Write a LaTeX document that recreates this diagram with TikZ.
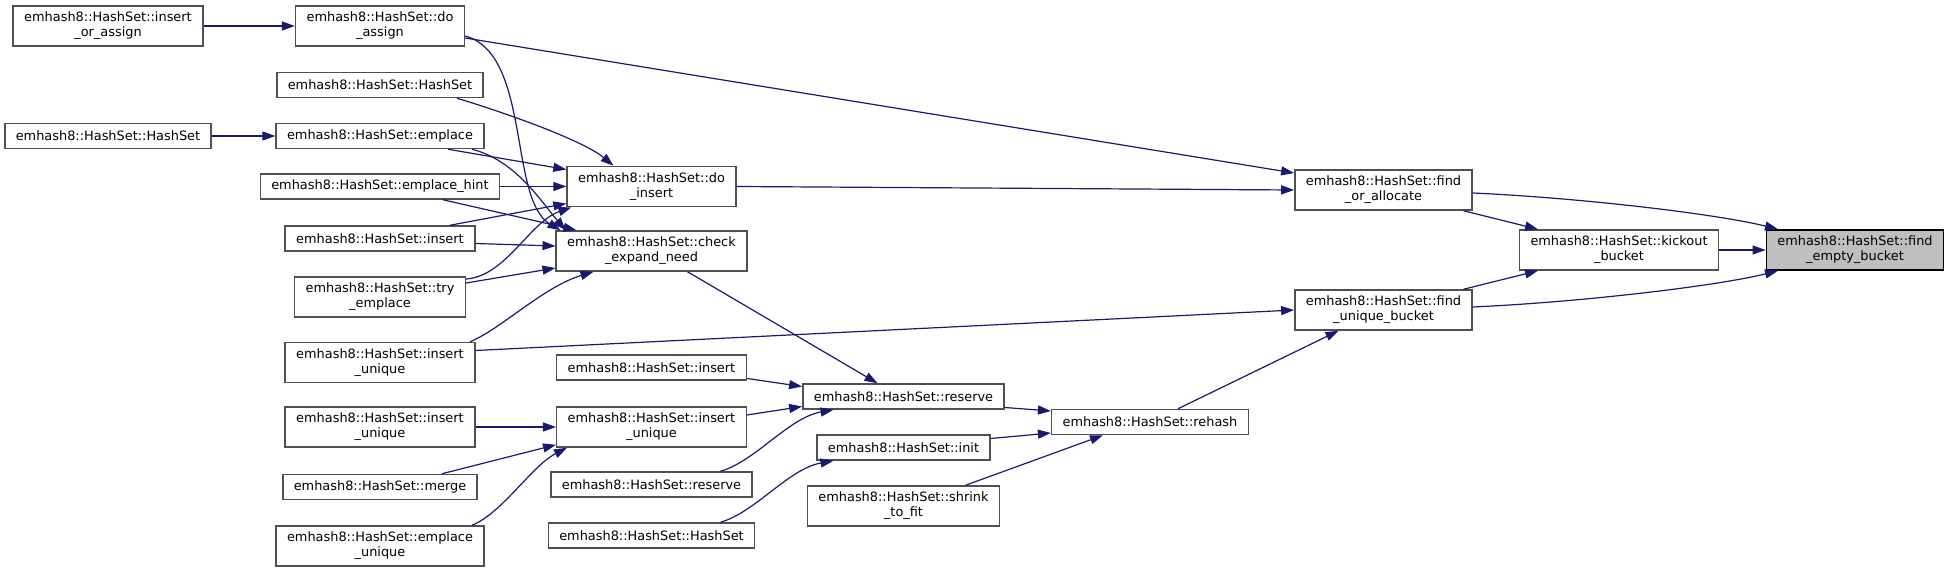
\documentclass[tikz,border=0pt]{standalone}
\usepackage{fontspec}
\setmainfont{DejaVu Sans}
\usepackage{xcolor}
\usepackage{tikz}
\usetikzlibrary{arrows.meta}

\definecolor{edgeblue}{HTML}{191970}
\definecolor{boxgray}{HTML}{505050}
\definecolor{focusgray}{HTML}{BFBFBF}

\begin{document}
\begin{tikzpicture}[font=\fontsize{12.9}{15}\selectfont, x=1pt, y=-1pt, >={Triangle[length=13pt,width=9pt]}]
\tikzstyle{fbox}=[draw=boxgray, line width=1.5pt, fill=white, align=center, minimum height=25pt, inner xsep=11pt, inner ysep=2pt]
\tikzstyle{tall}=[minimum height=40pt]
\tikzstyle{call}=[->, edgeblue, line width=1.2pt]
\useasboundingbox (0,0) rectangle (1948,569);

\node[fbox, tall] (insOrAssign) at (108,26) {emhash8::HashSet::insert\\\_or\_assign};
\node[fbox] (hsLeft) at (108,136) {emhash8::HashSet::HashSet};

\node[fbox, tall] (doAssign) at (380,26) {emhash8::HashSet::do\\\_assign};
\node[fbox] (hsTop) at (380,85) {emhash8::HashSet::HashSet};
\node[fbox] (emplace) at (380,136) {emhash8::HashSet::emplace};
\node[fbox] (emplaceHint) at (380,186.5) {emhash8::HashSet::emplace\_hint};
\node[fbox] (insertL) at (380,238.5) {emhash8::HashSet::insert};
\node[fbox, tall] (tryEmplace) at (380,297) {emhash8::HashSet::try\\\_emplace};
\node[fbox, tall] (insUniqA) at (380,362.5) {emhash8::HashSet::insert\\\_unique};
\node[fbox, tall] (insUniqB) at (380,427) {emhash8::HashSet::insert\\\_unique};
\node[fbox] (merge) at (380,487) {emhash8::HashSet::merge};
\node[fbox, tall] (emplaceUniq) at (380,546) {emhash8::HashSet::emplace\\\_unique};

\node[fbox, tall] (doInsert) at (651.5,186.5) {emhash8::HashSet::do\\\_insert};
\node[fbox, tall] (checkExpand) at (651.5,251) {emhash8::HashSet::check\\\_expand\_need};
\node[fbox] (insertM) at (651.5,367.5) {emhash8::HashSet::insert};
\node[fbox, tall] (insUniqM) at (651.5,427) {emhash8::HashSet::insert\\\_unique};
\node[fbox] (reserveM) at (651.5,484.5) {emhash8::HashSet::reserve};
\node[fbox] (hsMid) at (651.5,535.5) {emhash8::HashSet::HashSet};

\node[fbox] (reserve) at (903.5,396.5) {emhash8::HashSet::reserve};
\node[fbox] (init) at (903.5,447.5) {emhash8::HashSet::init};
\node[fbox, tall] (shrink) at (903.5,506) {emhash8::HashSet::shrink\\\_to\_fit};

\node[fbox] (rehash) at (1150,422) {emhash8::HashSet::rehash};
\node[fbox, tall] (findOrAlloc) at (1383.5,190) {emhash8::HashSet::find\\\_or\_allocate};
\node[fbox, tall] (findUniq) at (1383.5,310) {emhash8::HashSet::find\\\_unique\_bucket};
\node[fbox, tall] (kickout) at (1619,250) {emhash8::HashSet::kickout\\\_bucket};
\node[fbox, tall, draw=black, fill=focusgray] (findEmpty) at (1855,250) {emhash8::HashSet::find\\\_empty\_bucket};

\draw[call] (insOrAssign.east) -- (doAssign.west);
\draw[call] (hsLeft.east) -- (emplace.west);
\draw[call] ([yshift=-12pt]doAssign.east) -- ([yshift=17pt]findOrAlloc.west);
\draw[call] ([yshift=-10pt]doAssign.east) .. controls +(66,18) and +(-52,-31) .. ([xshift=5pt]checkExpand.north west);
\draw[call] ([xshift=77pt]hsTop.south) .. controls +(50,15) and +(-30,-25) .. ([xshift=-38pt]doInsert.north);
\draw[call] ([xshift=68pt]emplace.south) -- ([yshift=17pt]doInsert.west);
\draw[call] ([xshift=92pt]emplace.south) .. controls +(43,11) and +(-26,-31) .. ([xshift=10pt]checkExpand.north west);
\draw[call] (emplaceHint.east) -- (doInsert.west);
\draw[call] ([xshift=63pt]emplaceHint.south) -- ([xshift=21pt]checkExpand.north west);
\draw[call] ([xshift=70pt]insertL.north) -- ([yshift=-17pt]doInsert.west);
\draw[call] ([yshift=-5pt]insertL.east) -- ([yshift=5pt]checkExpand.west);
\draw[call] ([yshift=18pt]tryEmplace.east) .. controls +(40,-3) and +(-42,15) .. ([xshift=5pt]doInsert.south west);
\draw[call] ([yshift=14pt]tryEmplace.east) -- ([yshift=-17pt]checkExpand.west);
\draw[call] ([xshift=90pt]insUniqA.north) .. controls +(30,-12) and +(-50,15) .. ([xshift=-58pt]checkExpand.south);
\draw[call] ([yshift=12pt]insUniqA.east) -- (findUniq.west);
\draw[call] ([xshift=36pt]checkExpand.south) -- ([xshift=-26pt]reserve.north);
\draw[call] ([yshift=-11pt]insertM.east) -- ([yshift=10pt]reserve.west);
\draw[call] ([yshift=12pt]insUniqM.east) -- ([yshift=-10pt]reserve.west);
\draw[call] ([xshift=69pt]reserveM.north) .. controls +(35,-10) and +(-45,8) .. ([xshift=-70pt]reserve.south);
\draw[call] (insUniqB.east) -- (insUniqM.west);
\draw[call] ([xshift=62pt]merge.north) -- ([yshift=3pt]insUniqM.south west);
\draw[call] ([xshift=92pt]emplaceUniq.north) .. controls +(30,-12) and +(-35,18) .. ([xshift=11pt]insUniqM.south west);
\draw[call] ([xshift=69pt]hsMid.north) .. controls +(35,-10) and +(-45,8) .. ([xshift=-70pt]init.south);
\draw[call] ([yshift=-11pt]reserve.east) -- ([yshift=11pt]rehash.west);
\draw[call] ([yshift=9pt]init.east) -- ([yshift=-11pt]rehash.west);
\draw[call] ([xshift=62pt]shrink.north) -- ([xshift=-47pt]rehash.south);
\draw[call] ([xshift=28pt]rehash.north) -- ([xshift=-45pt]findUniq.south);
\draw[call] (doInsert.east) -- (findOrAlloc.west);
\draw[call] ([xshift=80pt]findOrAlloc.south) -- ([xshift=-81pt]kickout.north);
\draw[call] ([xshift=80pt]findUniq.north) -- ([xshift=-81pt]kickout.south);
\draw[call] ([yshift=-3pt]findOrAlloc.east) .. controls +(110,5) and +(-60,-15) .. ([xshift=-77pt]findEmpty.north);
\draw[call] ([yshift=3pt]findUniq.east) .. controls +(110,-5) and +(-60,15) .. ([xshift=-77pt]findEmpty.south);
\draw[call] (kickout.east) -- (findEmpty.west);
\end{tikzpicture}
\end{document}
